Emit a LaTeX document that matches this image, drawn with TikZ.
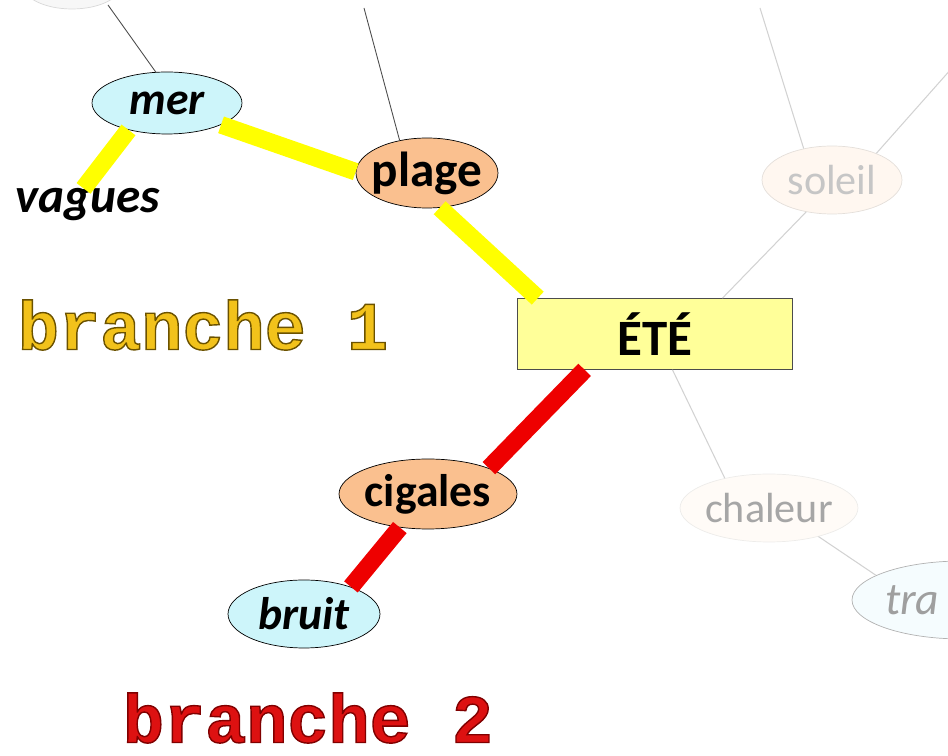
\documentclass[tikz,border=0pt]{standalone}
\usepackage{fontspec}
\setmainfont{Carlito}
\newfontfamily\branchfont{Liberation Mono}
\usetikzlibrary{shapes.geometric}

\definecolor{peach}{HTML}{FAC08F}
\definecolor{seablue}{HTML}{CDF5FA}
\definecolor{notepad}{HTML}{FFFF99}
\definecolor{hilite}{HTML}{FFFF00}
\definecolor{redline}{HTML}{EE0000}
\definecolor{gold}{HTML}{F2C21B}
\definecolor{crimson}{HTML}{DD1111}

\newcommand{\nowidth}[1]{\makebox[0pt]{#1}}
\newcommand{\outlined}[2]{\special{pdf:literal direct 2 Tr 0.8 w #1 RG}#2\special{pdf:literal direct 0 Tr}}

\begin{document}
\begin{tikzpicture}[x=0.02cm,y=-0.02cm]
    \tikzset{
    bubble/.style={ellipse,draw,inner sep=0pt,font=\fontsize{26}{30}\selectfont\bfseries},
    warm/.style={bubble,fill=peach},
    cool/.style={bubble,fill=seablue,font=\fontsize{26}{30}\selectfont\bfseries\itshape},
    ghost/.style={bubble,fill=orange!6,draw=orange!15!gray!25,text=gray!45,font=\fontsize{24}{28}\selectfont},
    topic/.style={rectangle,draw=black!70,fill=notepad,minimum width=5.5cm,minimum height=1.42cm,font=\fontsize{29}{33}\selectfont\bfseries},
    b1/.style={hilite,line width=10pt},
    b2/.style={redline,line width=10pt},
    twig/.style={black!70,line width=0.5pt},
    ghostline/.style={gray!35,line width=0.6pt},
    }
    \useasboundingbox (0,0) rectangle (948,756);
    \clip (0,0) rectangle (948,756);

    \node[topic] (ete) at (655,334) {ÉTÉ};
    \node[warm,font=\fontsize{28}{32}\selectfont\bfseries,minimum width=2.84cm,minimum height=1.4cm] (plage) at (427,173) {\nowidth{plage}};
    \node[cool,minimum width=3cm,minimum height=1.24cm] (mer) at (167,103) {\nowidth{mer}};
    \node[inner sep=0pt,font=\fontsize{28}{32}\selectfont\bfseries\itshape] (vagues) at (88,205) {vagues};
    \node[warm,minimum width=3.56cm,minimum height=1.4cm] (cigales) at (428,494) {\nowidth{cigales}};
    \node[cool,minimum width=3.04cm,minimum height=1.36cm] (bruit) at (304,614) {\nowidth{bruit}};
    \node[ghost,minimum width=2.8cm,minimum height=1.36cm] (soleil) at (832,180) {\nowidth{soleil}};
    \node[ghost,fill=orange!3,draw=orange!8!gray!15,text=gray!70,minimum width=3.56cm,minimum height=1.36cm] (chaleur) at (769,508) {\nowidth{chaleur}};
    \node[ghost,fill=cyan!4,draw=gray!60,text=gray!75,font=\fontsize{26}{30}\selectfont\itshape,minimum width=4.4cm,minimum height=1.56cm] (tra) at (962,600) {\makebox[0pt][l]{\kern-1.54cm tra}};
    \node[ellipse,draw=gray!30,fill=gray!6,minimum width=2cm,minimum height=1cm] (corner) at (72,-16) {};
    \node[ellipse,draw=gray!40,fill=seablue!30,minimum width=3cm,minimum height=1.2cm] (edge) at (1010,-18) {};

    \draw[b1] (mer.215) -- (vagues.105);
    \draw[b1] (mer.-22) -- (plage.179);
    \draw[b1] (plage.-70) -- (ete.163);
    \draw[b2] (ete.207) -- (cigales.23);
    \draw[b2] (cigales.230) -- (bruit.30);

    \coordinate (up1) at (108,5);
    \coordinate (up2) at (364,8);
    \coordinate (up3) at (760,8);
    \coordinate (up4) at (952,68);
    \draw[twig] (up1) -- (mer.110);
    \draw[twig] (up2) -- (plage.130);
    \draw[ghostline] (up3) -- (soleil.132);
    \draw[ghostline] (up4) -- (soleil.31);
    \draw[ghostline] (ete.28) -- (soleil.231);
    \draw[ghostline] (ete.-64) -- (chaleur.146);
    \draw[ghostline] (chaleur.-30) -- (tra.164);

    \node[font=\branchfont\bfseries\fontsize{39}{43}\selectfont,text=gold] (branch1) at (203,325) {\outlined{0.42 0.32 0}{branche 1}};
    \node[font=\branchfont\bfseries\fontsize{39}{43}\selectfont,text=crimson] (branch2) at (308,718) {\outlined{0.5 0 0}{branche 2}};

\end{tikzpicture}
\end{document}
